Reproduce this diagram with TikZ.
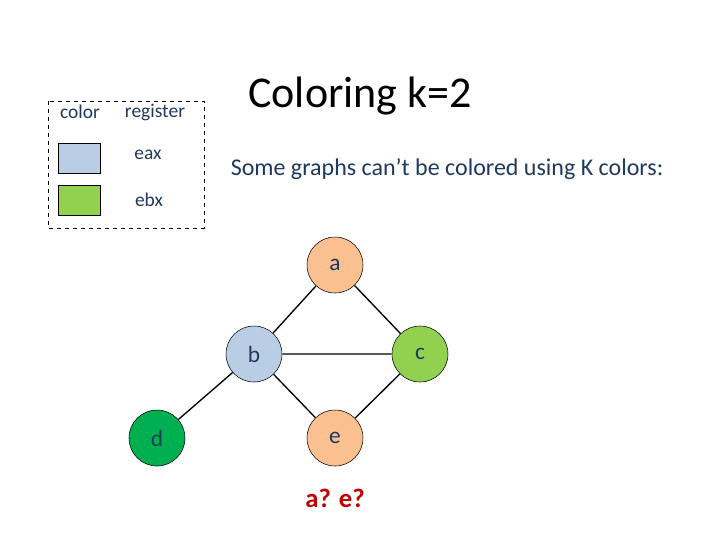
\documentclass[tikz,border=0pt]{standalone}
\usepackage{fontspec}
\setmainfont{Carlito}
\definecolor{txt}{HTML}{1F3A5F}
\definecolor{peach}{HTML}{FAC090}
\definecolor{lblue}{HTML}{B9CDE5}
\definecolor{lgreen}{HTML}{92D050}
\definecolor{dgreen}{HTML}{00B050}
\definecolor{red1}{HTML}{C00000}
\begin{document}
\begin{tikzpicture}[x=0.75pt,y=-0.75pt,
  vtx/.style={circle,draw=black,minimum size=42pt,inner sep=0pt,font=\fontsize{17.5}{20}\selectfont,text=txt},
  leg/.style={font=\fontsize{14.6}{17}\selectfont,text=txt},
  sw/.style={draw=black,minimum width=31.5pt,minimum height=22.5pt,inner sep=0pt},
  edge/.style={draw=black,line width=1pt}]
\useasboundingbox (0,0) rectangle (720,540);
\draw[dashed] (48,101) rectangle (204,228);
\node[leg] (hc) at (80,112) {color};
\node[leg] (hr) at (155,112) {register};
\node[sw,fill=lblue] (s1) at (79,158) {};
\node[sw,fill=lgreen] (s2) at (79,200.5) {};
\node[leg] (l1) at (148,155) {eax};
\node[leg] (l2) at (149,200) {ebx};
\node[font=\fontsize{33}{38}\selectfont,text=black] (t) at (360,96) {Coloring k=2};
\node[font=\fontsize{18}{21}\selectfont,text=txt] (st) at (447,169) {Some graphs can’t be colored using K colors:};
\node[vtx,fill=peach] (a) at (335,265) {a};
\node[vtx,fill=lblue] (b) at (254,354) {b};
\node[vtx,fill=lgreen] (c) at (420,354) {c};
\node[vtx,fill=dgreen] (d) at (157,438) {d};
\node[vtx,fill=peach] (e) at (335,438) {e};
\draw[edge] (a)--(b) (a)--(c) (b)--(c) (b)--(d) (b)--(e) (c)--(e);
\node[font=\bfseries\fontsize{20}{24}\selectfont,text=red1] (q) at (335,498) {a? e?};
\end{tikzpicture}
\end{document}
